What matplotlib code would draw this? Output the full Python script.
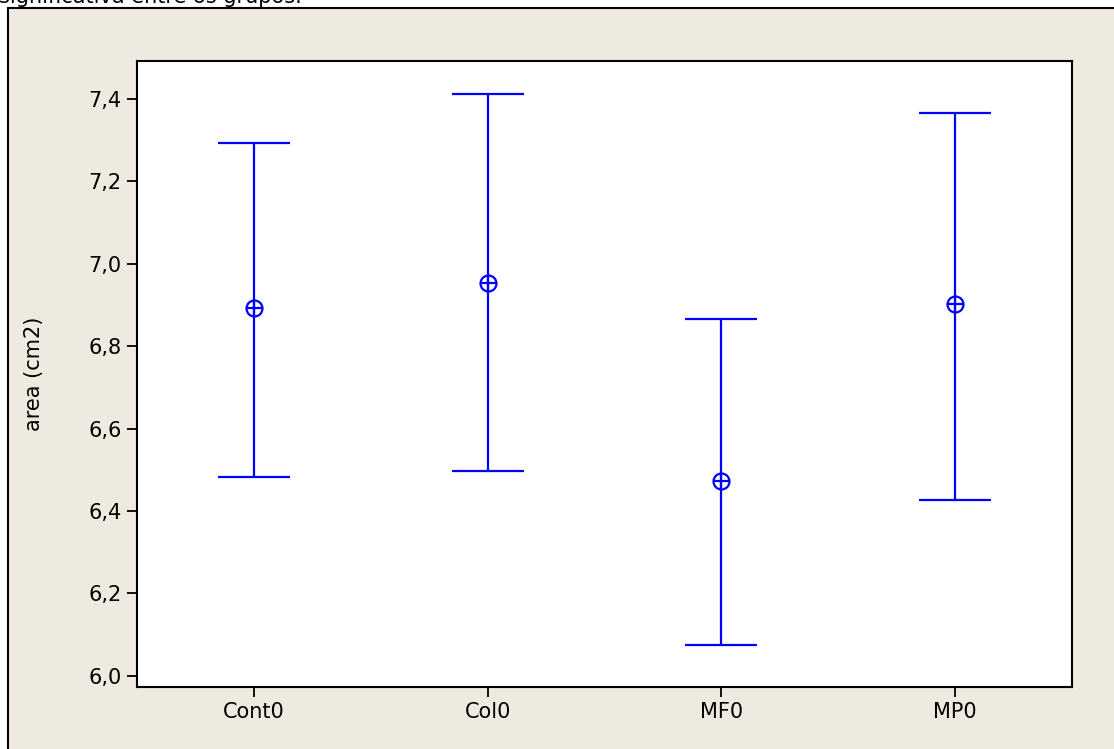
import matplotlib.pyplot as plt
from matplotlib.patches import Rectangle

grupos = ['Cont0', 'Col0', 'MF0', 'MP0']
media = [6.893, 6.954, 6.473, 6.903]
limite_sup = [7.293, 7.412, 6.867, 7.366]
limite_inf = [6.483, 6.498, 6.076, 6.427]
yticks = [6.0, 6.2, 6.4, 6.6, 6.8, 7.0, 7.2, 7.4]

fig = plt.figure(figsize=(11.14, 7.49), dpi=100)
W, H = 1114, 749

# painel bege do fundo (Minitab)
fundo = Rectangle((8 / W, -0.1), 1.2, 1.1 - 8 / H, transform=fig.transFigure,
                  facecolor='#eeeae0', edgecolor='black', linewidth=1.5, zorder=-1)
fig.patches.append(fundo)
fig.text(-1 / W, 1 - 3 / H, 'significativa entre os grupos.', fontsize=15,
         va='baseline', ha='left')

ax = fig.add_axes([137 / W, 62 / H, (1072 - 137) / W, (687 - 61) / H])
ax.set_zorder(2)
ax.set_facecolor('white')

x = list(range(1, len(grupos) + 1))
err_inf = [m - l for m, l in zip(media, limite_inf)]
err_sup = [s - m for m, s in zip(media, limite_sup)]
ax.errorbar(x, media, yerr=[err_inf, err_sup], fmt='none', ecolor='#0000ff',
            elinewidth=1.6, capsize=26, capthick=1.6)
ax.plot(x, media, 'o', ms=11.5, mfc='none', mec='#0000ff', mew=1.6)
ax.plot(x, media, '+', ms=11.5, mec='#0000ff', mew=1.6)

ax.set_xlim(0.5, 4.5)
ax.set_ylim(5.973, 7.492)
ax.set_xticks(x)
ax.set_xticklabels(grupos)
ax.set_yticks(yticks)
ax.set_yticklabels([f'{v:.1f}'.replace('.', ',') for v in yticks])
ax.tick_params(direction='out', length=7, width=1.3, labelsize=15, pad=4)
for s in ax.spines.values():
    s.set_linewidth(1.5)
ax.set_ylabel('area (cm2)', fontsize=15)
ax.yaxis.set_label_coords((44 - 137) / 935, 0.5)

fig.savefig('out.png', dpi=100)
